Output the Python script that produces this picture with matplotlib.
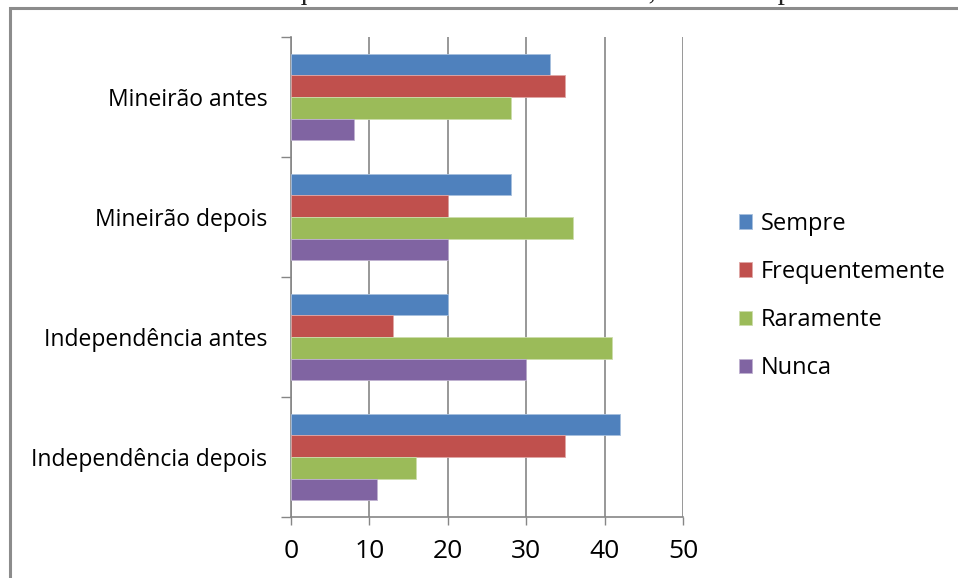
import numpy as np
import matplotlib.pyplot as plt
from matplotlib.patches import Rectangle

categories = ["Mineirão antes", "Mineirão depois", "Independência antes", "Independência depois"]
series = ["Sempre", "Frequentemente", "Raramente", "Nunca"]
sempre = [33, 28, 20, 42]
frequentemente = [35, 20, 13, 35]
raramente = [28, 36, 41, 16]
nunca = [8, 20, 30, 11]
colors = ["#4F81BD", "#C0504D", "#9BBB59", "#8064A2"]
edges = ["#A7C0DE", "#DFA7A6", "#CDDDAC", "#BFB1D0"]
xticks = [0, 10, 20, 30, 40, 50]

plt.rcParams['font.family'] = ['Open Sans', 'DejaVu Sans']

fig = plt.figure(figsize=(9.58, 5.78), dpi=100)
fig.patch.set_facecolor('white')

# outer chart frame (runs off the right and bottom of the picture)
fig.patches.append(Rectangle((10 / 958, -0.2), 1.2, (578 - 8) / 578 + 0.2,
                             transform=fig.transFigure, fill=False,
                             edgecolor='#8C8C8C', linewidth=2.2))

# caption, mostly cut off at the top of the picture
fig.text(114 / 958, 1.014, "Gráfico 3 – Frequência de torcedor no estádio, antes e depois da reforma",
         family='Liberation Serif', fontsize=21, va='center', ha='left', color='#222222')

ax = fig.add_axes([291 / 958, (578 - 517) / 578, (683 - 291) / 958, (517 - 37) / 578])

values = [sempre, frequentemente, raramente, nunca]
n = len(categories)
pos = np.arange(n)[::-1]  # first category at top
bh = 0.72 / 4
for i, (name, vals) in enumerate(zip(series, values)):
    y = pos + 0.36 - bh * (i + 0.5)
    ax.barh(y, vals, height=bh, color=colors[i], edgecolor=edges[i], linewidth=0.6,
            label=name, zorder=3)

ax.set_xlim(0, 50)
ax.set_ylim(-0.5, n - 0.5)
ax.set_xticks(xticks)
ax.set_xticklabels([str(t) for t in xticks], fontsize=19)
ax.set_yticks(pos)
ax.set_yticklabels(categories, fontsize=16.5)
ax.set_yticks(np.arange(n + 1) - 0.5, minor=True)
ax.tick_params(axis='y', which='major', length=0, pad=17)
ax.tick_params(axis='y', which='minor', length=7, color='#868686', width=1, direction='out')
ax.tick_params(axis='x', length=6, color='#868686', width=1, direction='out', pad=10)
ax.grid(axis='x', color='#868686', linewidth=1.2, zorder=0)
for s in ['top', 'right']:
    ax.spines[s].set_visible(False)
ax.spines['left'].set_color('#868686')
ax.spines['bottom'].set_color('#868686')
ax.spines['left'].set_linewidth(1.2)
ax.spines['bottom'].set_linewidth(1.2)

fig.legend(loc='center left', bbox_to_anchor=(730 / 958, (578 - 296) / 578), frameon=False,
           fontsize=17, handlelength=0.55, handleheight=0.55, handletextpad=0.35,
           labelspacing=1.02, borderaxespad=0)

fig.savefig("out.png", dpi=100)
